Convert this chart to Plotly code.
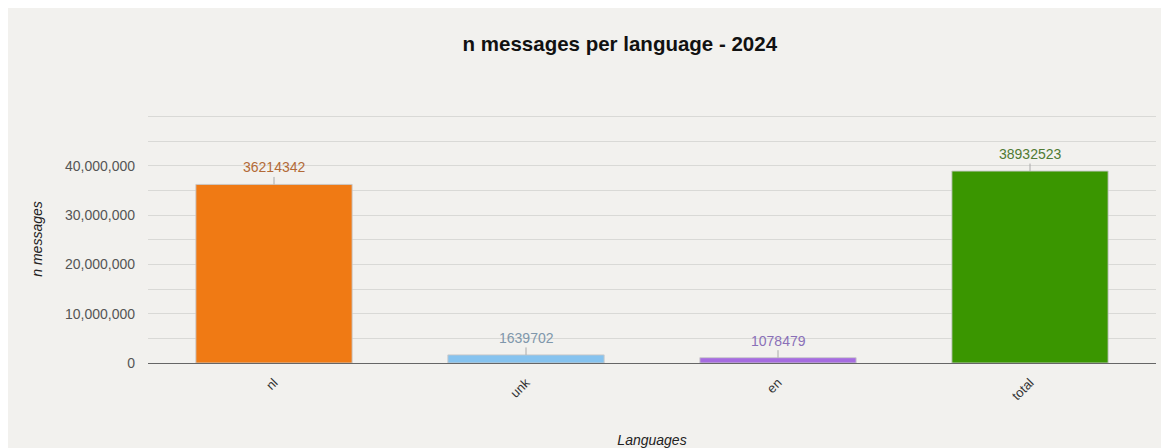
import plotly.graph_objects as go

# data
languages = ['nl', 'unk', 'en', 'total']
n_messages = [36214342, 1639702, 1078479, 38932523]
bar_colors = ['#f07a14', '#86c3ef', '#a66ce0', '#3a9600']
label_colors = ['#b36a36', '#7f97ab', '#8a70b8', '#4f7a33']
y_ticks = [0, 10000000, 20000000, 30000000, 40000000]

fig = go.Figure()

fig.add_trace(go.Bar(
    x=languages,
    y=n_messages,
    marker=dict(color=bar_colors, line=dict(color='rgba(200,200,200,0.9)', width=1)),
    hoverinfo='x+y',
))

# value labels with a short leader line above each bar
for lang, val, col in zip(languages, n_messages, label_colors):
    fig.add_annotation(
        x=lang, y=val, text=str(val),
        showarrow=True, arrowhead=0, arrowwidth=1, arrowcolor='#aaaaaa',
        ax=0, ay=-17, standoff=0,
        font=dict(family='Liberation Sans, Arial, sans-serif', size=14, color=col),
    )

fig.update_layout(
    width=1161,
    height=440,
    margin=dict(l=140, r=13, t=107, b=85),
    paper_bgcolor='#f2f1ee',
    plot_bgcolor='#f2f1ee',
    bargap=0.38,
    showlegend=False,
    font=dict(family='Liberation Sans, Arial, sans-serif', size=14, color='#555555'),
    title=dict(
        text='<b>n messages per language - 2024</b>',
        x=0.527, xanchor='center',
        y=0.918, yanchor='middle',
        font=dict(size=20.5, color='#111111'),
    ),
)

fig.update_xaxes(
    automargin=False,
    tickangle=-45,
    tickfont=dict(size=13, color='#333333'),
    ticklabelstandoff=6,
    title=dict(text='<i>Languages</i>', font=dict(size=14, color='#222222'), standoff=40),
    showline=True, linecolor='#666666', linewidth=1,
    showgrid=False,
)

fig.update_yaxes(
    automargin=False,
    range=[0, 50300000],
    tickvals=y_ticks,
    tickformat=',d',
    tickfont=dict(size=14, color='#555555'),
    title=dict(text='<i>n messages</i>', font=dict(size=14, color='#222222'), standoff=19),
    showgrid=True, gridcolor='#d9d9d6', gridwidth=1,
    minor=dict(dtick=5000000, showgrid=True, gridcolor='#d9d9d6', gridwidth=1),
    zeroline=True, zerolinecolor='#666666', zerolinewidth=1,
    ticks='', ticklabelstandoff=12,
)

fig.write_html("out.html")
